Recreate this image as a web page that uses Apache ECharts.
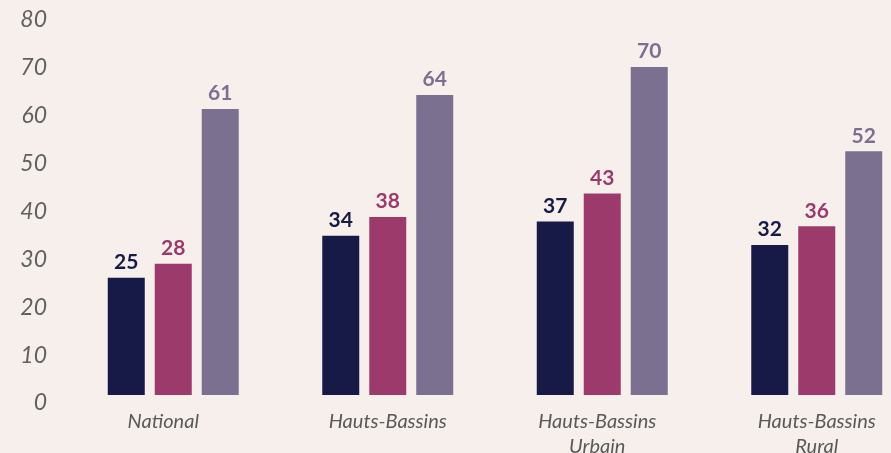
<!DOCTYPE html>
<html>
<head>
<meta charset="utf-8">
<script src="https://cdn.jsdelivr.net/npm/echarts@6/dist/echarts.min.js"></script>
<style>
  html, body { margin: 0; padding: 0; background: #f6efec; }
  #chart { width: 891px; height: 453px; }
</style>
</head>
<body>
<div id="chart"></div>
<script>
// données
var categories = ['National', 'Hauts-Bassins', 'Hauts-Bassins\nUrbain', 'Hauts-Bassins\nRural'];
var serie1 = [25, 34, 37, 32];
var serie2 = [28, 38, 43, 36];
var serie3 = [61, 64, 70, 52];
var yTicks = [0, 10, 20, 30, 40, 50, 60, 70, 80];

var colors = ['#171a47', '#9c3b6b', '#7b7090'];

// petit décalage horizontal des étiquettes, comme dans l'original
var labelShift = [20, 0, 10, 0];

var myChart = echarts.init(document.getElementById('chart'));

function barSerie(name, data, color) {
  return {
    name: name,
    type: 'bar',
    data: data,
    barWidth: 37,
    barGap: '27%',
    itemStyle: { color: color },
    label: {
      show: true,
      position: 'top',
      distance: 5,
      color: color,
      fontFamily: 'Lato',
      fontWeight: 'bold',
      fontSize: 21
    }
  };
}

var option = {
  backgroundColor: '#f6efec',
  animation: false,
  grid: [
    { left: 66, right: -33, top: 20, bottom: 58, outerBoundsMode: 'none' },
    // grille pour les étiquettes de l'axe y
    { left: 66, right: -33, top: 20, bottom: 50, outerBoundsMode: 'none' }
  ],
  xAxis: [
    {
      type: 'category',
      gridIndex: 0,
      data: categories.map(function (c, i) {
        return { value: c, textStyle: { padding: [0, labelShift[i], 0, 0] } };
      }),
      axisLine: { show: false },
      axisTick: { show: false },
      axisLabel: {
        margin: 14,
        color: '#595959',
        fontFamily: 'Lato',
        fontStyle: 'italic',
        fontSize: 20,
        lineHeight: 25
      }
    },
    { type: 'category', gridIndex: 1, show: false, data: categories }
  ],
  yAxis: [
    {
      type: 'value',
      gridIndex: 0,
      min: 0, max: 80, interval: 10,
      axisLabel: { show: false },
      axisLine: { show: false },
      axisTick: { show: false },
      splitLine: { show: false }
    },
    {
      type: 'value',
      gridIndex: 1,
      min: yTicks[0], max: yTicks[yTicks.length - 1], interval: 10,
      axisLine: { show: false },
      axisTick: { show: false },
      splitLine: { show: false },
      axisLabel: {
        margin: 19,
        color: '#606060',
        fontFamily: 'Lato',
        fontStyle: 'italic',
        fontSize: 23
      }
    }
  ],
  series: [
    barSerie('Série 1', serie1, colors[0]),
    barSerie('Série 2', serie2, colors[1]),
    barSerie('Série 3', serie3, colors[2])
  ]
};

myChart.setOption(option);
</script>
</body>
</html>
